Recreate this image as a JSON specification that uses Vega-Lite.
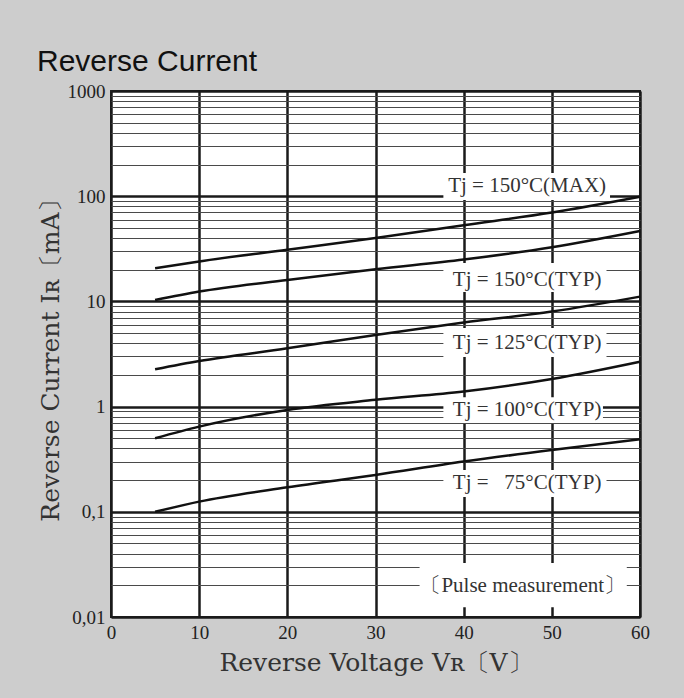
{
  "$schema": "https://vega.github.io/schema/vega-lite/v6.json",
  "width": 529,
  "height": 526,
  "autosize": "none",
  "padding": {"left": 111, "top": 91, "right": 44, "bottom": 81},
  "background": "#cdcdcd",
  "title": {
    "text": "Reverse Current",
    "anchor": "start",
    "frame": "group",
    "dx": -74,
    "dy": 36,
    "offset": 17,
    "baseline": "alphabetic",
    "font": "Liberation Sans",
    "fontSize": 30,
    "fontWeight": "normal",
    "color": "#111"
  },
  "config": {
    "view": {"fill": "white", "stroke": "#222", "strokeWidth": 2}
  },
  "datasets": {
    "curves": [
      {"s": "150MAX", "V": 5, "I": 20.7}, {"s": "150MAX", "V": 10, "I": 24}, {"s": "150MAX", "V": 20, "I": 31}, {"s": "150MAX", "V": 30, "I": 40}, {"s": "150MAX", "V": 40, "I": 53}, {"s": "150MAX", "V": 50, "I": 70}, {"s": "150MAX", "V": 60, "I": 99},
      {"s": "150TYP", "V": 5, "I": 10.3}, {"s": "150TYP", "V": 10, "I": 12.4}, {"s": "150TYP", "V": 20, "I": 16}, {"s": "150TYP", "V": 30, "I": 20.2}, {"s": "150TYP", "V": 40, "I": 25}, {"s": "150TYP", "V": 50, "I": 32.7}, {"s": "150TYP", "V": 60, "I": 46.7},
      {"s": "125TYP", "V": 5, "I": 2.26}, {"s": "125TYP", "V": 10, "I": 2.71}, {"s": "125TYP", "V": 20, "I": 3.58}, {"s": "125TYP", "V": 30, "I": 4.8}, {"s": "125TYP", "V": 40, "I": 6.3}, {"s": "125TYP", "V": 50, "I": 8.0}, {"s": "125TYP", "V": 60, "I": 11.1},
      {"s": "100TYP", "V": 5, "I": 0.5}, {"s": "100TYP", "V": 10, "I": 0.645}, {"s": "100TYP", "V": 20, "I": 0.93}, {"s": "100TYP", "V": 30, "I": 1.16}, {"s": "100TYP", "V": 40, "I": 1.39}, {"s": "100TYP", "V": 50, "I": 1.83}, {"s": "100TYP", "V": 60, "I": 2.67},
      {"s": "75TYP", "V": 5, "I": 0.1}, {"s": "75TYP", "V": 10, "I": 0.125}, {"s": "75TYP", "V": 20, "I": 0.171}, {"s": "75TYP", "V": 30, "I": 0.224}, {"s": "75TYP", "V": 40, "I": 0.30}, {"s": "75TYP", "V": 50, "I": 0.387}, {"s": "75TYP", "V": 60, "I": 0.49}
    ],
    "boxes": [
      {"V": 37.7, "V2": 56.6, "I": 92, "I2": 166},
      {"V": 37.7, "V2": 56.2, "I": 12.3, "I2": 23.2},
      {"V": 37.7, "V2": 56.2, "I": 2.96, "I2": 5.58},
      {"V": 37.7, "V2": 55.8, "I": 0.70, "I2": 1.23},
      {"V": 37.7, "V2": 56.2, "I": 0.138, "I2": 0.249},
      {"V": 35.0, "V2": 58.5, "I": 0.0124, "I2": 0.0326}
    ],
    "labels": [
      {"V": 47.2, "I": 125, "t": "Tj = 150°C(MAX)"},
      {"V": 47.2, "I": 16, "t": "Tj = 150°C(TYP)"},
      {"V": 47.2, "I": 4.0, "t": "Tj = 125°C(TYP)"},
      {"V": 47.2, "I": 0.93, "t": "Tj = 100°C(TYP)"},
      {"V": 47.2, "I": 0.187, "t": "Tj =\u00a0\u00a0\u00a075°C(TYP)"},
      {"V": 46.7, "I": 0.0197, "t": "〔Pulse measurement〕"}
    ]
  },
  "encoding": {
    "x": {
      "field": "V",
      "type": "quantitative",
      "scale": {"domain": [0, 60], "nice": false, "zero": false},
      "axis": {
        "values": [0, 10, 20, 30, 40, 50, 60],
        "grid": true,
        "gridColor": "#1a1a1a",
        "gridWidth": 2.5,
        "ticks": false,
        "domain": false,
        "labelFlush": false,
        "labelFont": "Liberation Serif",
        "labelFontSize": 19,
        "labelColor": "#222",
        "labelPadding": 6,
        "title": "Reverse Voltage  Vʀ〔V〕",
        "titleFont": "DejaVu Serif",
        "titleFontSize": 25,
        "titleFontWeight": "normal",
        "titleColor": "#333",
        "titlePadding": 8
      }
    },
    "y": {
      "field": "I",
      "type": "quantitative",
      "scale": {"type": "log", "domain": [0.01, 1000], "nice": false},
      "axis": {
        "values": [0.01, 0.02, 0.03, 0.04, 0.05, 0.06, 0.07, 0.08, 0.09, 0.1, 0.2, 0.3, 0.4, 0.5, 0.6, 0.7, 0.8, 0.9, 1, 2, 3, 4, 5, 6, 7, 8, 9, 10, 20, 30, 40, 50, 60, 70, 80, 90, 100, 200, 300, 400, 500, 600, 700, 800, 900, 1000],
        "labelExpr": "datum.value == 1000 ? '1000' : datum.value == 100 ? '100' : datum.value == 10 ? '10' : datum.value == 1 ? '1' : datum.value == 0.1 ? '0,1' : datum.value == 0.01 ? '0,01' : ''",
        "grid": true,
        "gridColor": {"condition": {"test": "indexof([0.01, 0.1, 1, 10, 100, 1000], datum.value) >= 0", "value": "#1a1a1a"}, "value": "#4a4a4a"},
        "gridWidth": {"condition": {"test": "indexof([0.01, 0.1, 1, 10, 100, 1000], datum.value) >= 0", "value": 2.5}, "value": 1.2},
        "ticks": false,
        "domain": false,
        "labelFont": "Liberation Serif",
        "labelFontSize": 19,
        "labelColor": "#222",
        "labelPadding": 6,
        "labelOverlap": false,
        "title": "Reverse Current  Iʀ〔mA〕",
        "titleFont": "DejaVu Serif",
        "titleFontSize": 25,
        "titleFontWeight": "normal",
        "titleColor": "#333",
        "titlePadding": 4
      }
    }
  },
  "layer": [
    {
      "data": {"name": "boxes"},
      "mark": {"type": "rect", "fill": "white", "stroke": null},
      "encoding": {
        "x2": {"field": "V2"},
        "y2": {"field": "I2"}
      }
    },
    {
      "data": {"name": "curves"},
      "mark": {"type": "line", "interpolate": "monotone", "color": "#111", "strokeWidth": 2.5},
      "encoding": {
        "detail": {"field": "s", "type": "nominal"}
      }
    },
    {
      "data": {"name": "labels"},
      "mark": {"type": "text", "font": "Liberation Serif", "fontSize": 21, "color": "#333", "align": "center", "baseline": "middle"},
      "encoding": {
        "text": {"field": "t", "type": "nominal"}
      }
    }
  ]
}
